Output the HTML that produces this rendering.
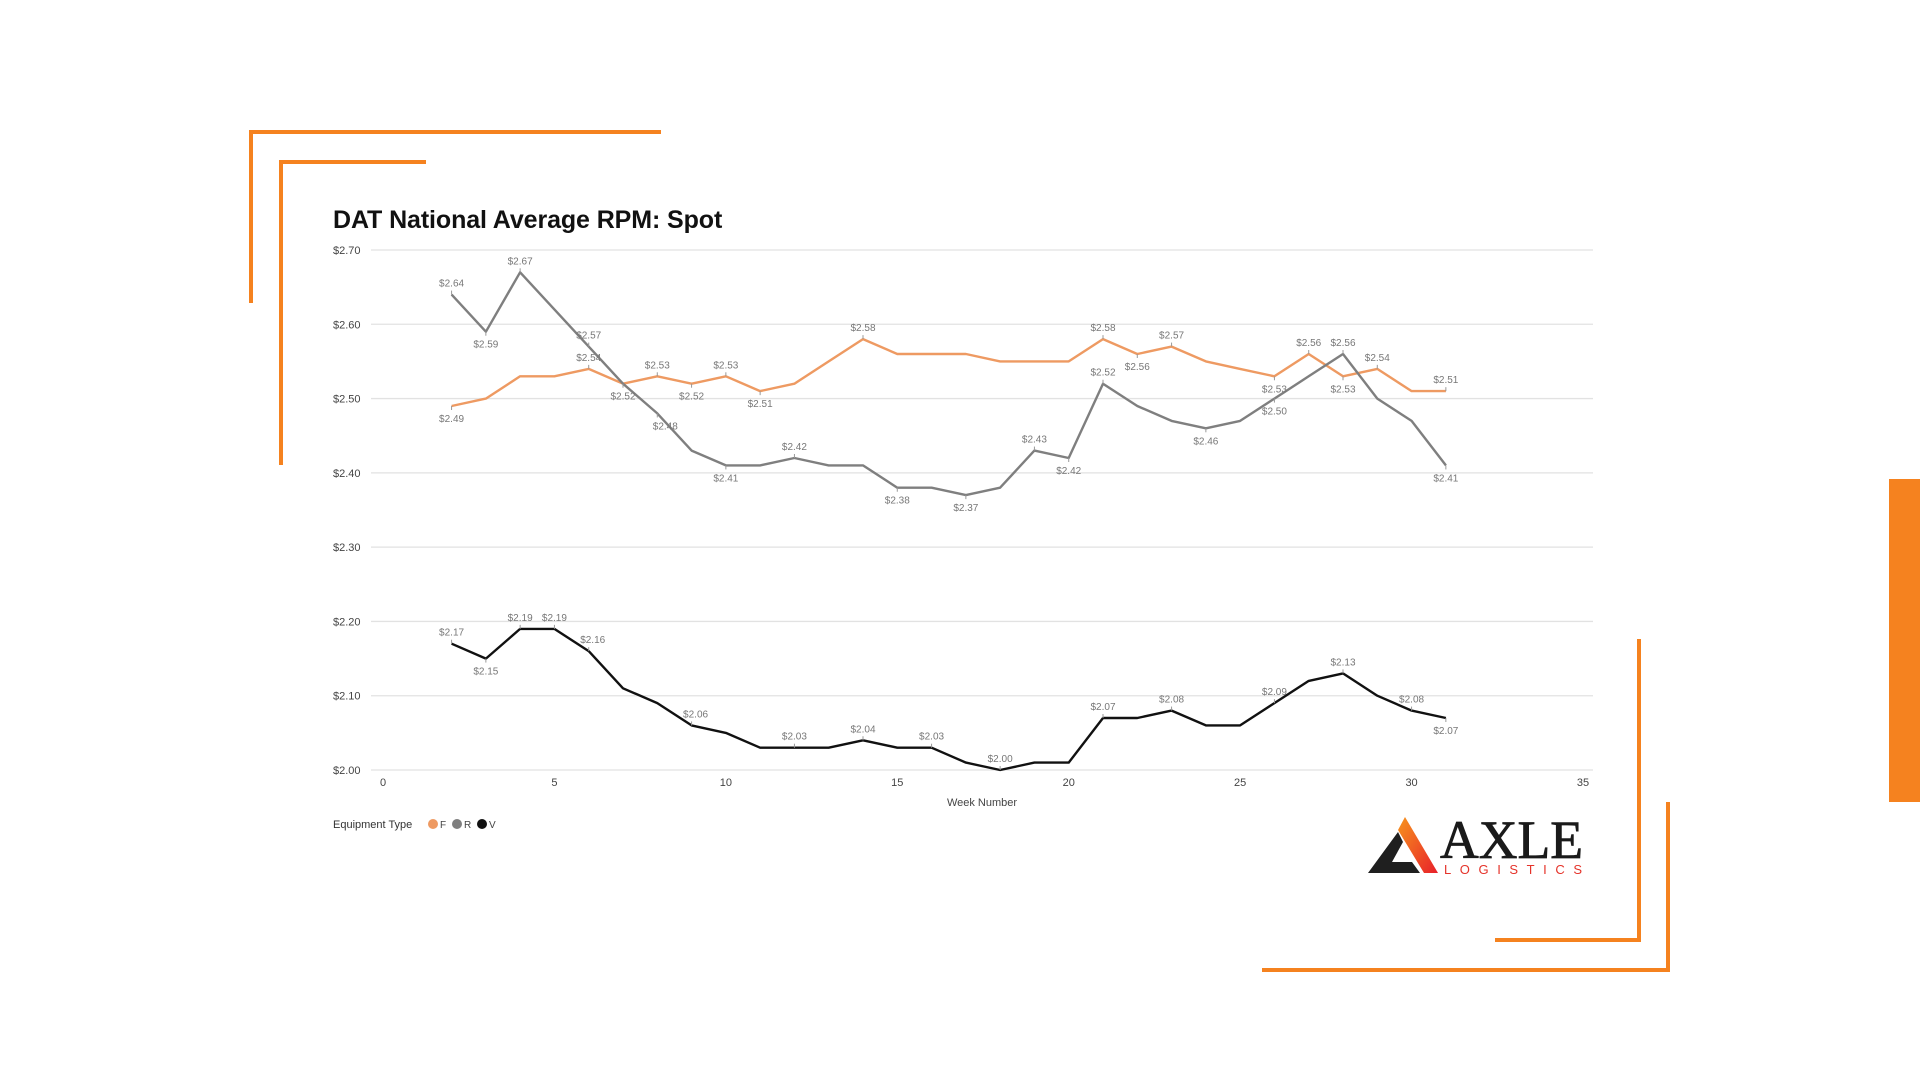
<!DOCTYPE html>
<html><head><meta charset="utf-8">
<style>
html,body{margin:0;padding:0;background:#fff;}
body{width:1920px;height:1080px;position:relative;overflow:hidden;font-family:"Liberation Sans",sans-serif;}
.o{position:absolute;background:#F5821F;}
#title{position:absolute;left:333px;top:206px;font-size:25px;font-weight:bold;color:#111;letter-spacing:-0.1px;}
</style></head>
<body>
<div class="o" style="left:250px;top:130px;width:411px;height:4px"></div>
<div class="o" style="left:249px;top:130px;width:4px;height:173px"></div>
<div class="o" style="left:280px;top:160px;width:146px;height:4px"></div>
<div class="o" style="left:279px;top:160px;width:4px;height:305px"></div>
<div class="o" style="left:1637px;top:639px;width:4px;height:303px"></div>
<div class="o" style="left:1495px;top:938px;width:146px;height:4px"></div>
<div class="o" style="left:1666px;top:802px;width:4px;height:170px"></div>
<div class="o" style="left:1262px;top:968px;width:408px;height:4px"></div>
<div class="o" style="left:1889px;top:479px;width:31px;height:323px"></div>
<div id="title">DAT National Average RPM: Spot</div>
<svg id="ch" width="1920" height="1080" style="position:absolute;left:0;top:0" xmlns="http://www.w3.org/2000/svg"></svg>
<script>
var X0=383,PX=(1583-383)/35,Y0=770,PY=(770-250)/0.7;
function X(w){return X0+w*PX}function Y(v){return Y0-(v-2.0)*PY}
var s='';
for(var i=0;i<=7;i++){var v=2+i*0.1,y=Y(v);s+='<line x1="371" x2="1593" y1="'+y+'" y2="'+y+'" stroke="#e2e2e2" stroke-width="1.3"/>';
s+='<text x="333" y="'+(y+4)+'" font-size="11" fill="#444">$'+v.toFixed(2)+'</text>';}
for(var w=0;w<=35;w+=5)s+='<text x="'+X(w)+'" y="786" font-size="11" fill="#444" text-anchor="middle">'+w+'</text>';
s+='<text x="982" y="806" font-size="11" fill="#444" text-anchor="middle">Week Number</text>';
var F=[2.49,2.50,2.53,2.53,2.54,2.52,2.53,2.52,2.53,2.51,2.52,2.55,2.58,2.56,2.56,2.56,2.55,2.55,2.55,2.58,2.56,2.57,2.55,2.54,2.53,2.56,2.53,2.54,2.51,2.51];
var R=[2.64,2.59,2.67,2.62,2.57,2.52,2.48,2.43,2.41,2.41,2.42,2.41,2.41,2.38,2.38,2.37,2.38,2.43,2.42,2.52,2.49,2.47,2.46,2.47,2.50,2.53,2.56,2.50,2.47,2.41];
var V=[2.17,2.15,2.19,2.19,2.16,2.11,2.09,2.06,2.05,2.03,2.03,2.03,2.04,2.03,2.03,2.01,2.00,2.01,2.01,2.07,2.07,2.08,2.06,2.06,2.09,2.12,2.13,2.10,2.08,2.07];
function line(d,c){var p=d.map(function(v,i){return X(i+2).toFixed(1)+','+Y(v).toFixed(1)}).join(' ');
return '<polyline points="'+p+'" fill="none" stroke="'+c+'" stroke-width="2.4" stroke-linejoin="round"/>';}
s+=line(F,'#EE9A62')+line(R,'#7f7f7f')+line(V,'#111');
function labs(d,list){var o='';list.forEach(function(a){var w=a[0],up=a[1],v=d[w-2],x=X(w),y=Y(v);
o+='<line x1="'+x+'" x2="'+x+'" y1="'+y+'" y2="'+(y+(up?-4:4))+'" stroke="#999" stroke-width="1"/>';
o+='<text x="'+(x+(a[2]||0))+'" y="'+(up?y-8:y+16)+'" font-size="10" fill="#777" text-anchor="middle">$'+v.toFixed(2)+'</text>';});return o;}
s+=labs(F,[[2,0],[6,1],[7,0],[8,1],[9,0],[10,1],[11,0],[14,1],[21,1],[22,0],[23,1],[26,0],[27,1],[28,0],[29,1],[31,1]]);
s+=labs(R,[[2,1],[3,0],[4,1],[6,1],[8,0,8],[10,0],[12,1],[15,0],[17,0],[19,1],[20,0],[21,1],[24,0],[26,0],[28,1],[31,0]]);
s+=labs(V,[[2,1],[3,0],[4,1],[5,1],[6,1,4],[9,1,4],[12,1],[14,1],[16,1],[18,1],[21,1],[23,1],[26,1],[28,1],[30,1],[31,0]]);
s+='<text x="333" y="828" font-size="11" fill="#333">Equipment Type</text>';
s+='<circle cx="433" cy="824" r="5" fill="#EE9A62"/><text x="440" y="828" font-size="10" fill="#444">F</text>';
s+='<circle cx="457" cy="824" r="5" fill="#7f7f7f"/><text x="464" y="828" font-size="10" fill="#444">R</text>';
s+='<circle cx="482" cy="824" r="5" fill="#111"/><text x="489" y="828" font-size="10" fill="#444">V</text>';
s+='<defs><linearGradient id="g" x1="0" y1="0" x2="1" y2="1"><stop offset="0" stop-color="#F7941D"/><stop offset="1" stop-color="#E8202A"/></linearGradient></defs>';
s+='<polygon points="1405,817 1438,873 1424,873 1398,830" fill="url(#g)"/>';
s+='<polygon points="1398,832 1368,873 1420,873 1412,862 1392,862 1403,842" fill="#1f1f1f"/>';
s+='<text x="1440" y="858" font-family="Liberation Serif,serif" font-size="54" fill="#1a1a1a" stroke="#1a1a1a" stroke-width="0.8" textLength="143" lengthAdjust="spacingAndGlyphs">AXLE</text>';
s+='<text x="1444" y="874" font-size="13" fill="#E5332A" textLength="138" lengthAdjust="spacing">LOGISTICS</text>';
document.getElementById('ch').innerHTML=s;
</script>
</body></html>
